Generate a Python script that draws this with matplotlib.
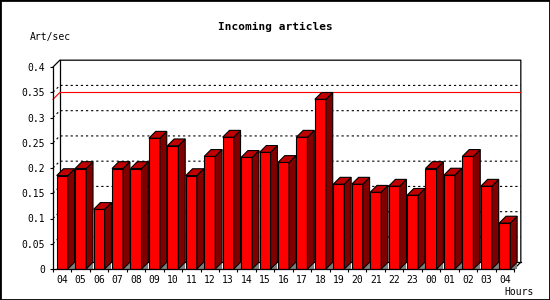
"""Incoming articles per hour: 3D-style bar chart (JpGraph look)."""
import numpy as np
import matplotlib
matplotlib.use("Agg")
import matplotlib.pyplot as plt
from matplotlib.patches import Polygon, Rectangle

hours = ["04", "05", "06", "07", "08", "09", "10", "11", "12", "13", "14", "15",
         "16", "17", "18", "19", "20", "21", "22", "23", "00", "01", "02", "03", "04"]
rate = [0.185, 0.199, 0.118, 0.199, 0.199, 0.259, 0.244, 0.185, 0.223, 0.261,
        0.221, 0.231, 0.211, 0.261, 0.336, 0.168, 0.168, 0.152, 0.164, 0.146,
        0.199, 0.186, 0.223, 0.164, 0.091]
yticks = [0, 0.05, 0.1, 0.15, 0.2, 0.25, 0.3, 0.35, 0.4]
ylabels = ["0", "0.05", "0.1", "0.15", "0.2", "0.25", "0.3", "0.35", "0.4"]

MONO = "DejaVu Sans Mono"
dx, dy = 0.37, 0.0135      # 3d depth in data units
bw = 0.6

fig = plt.figure(figsize=(5.5, 3.0), dpi=100)
ax = fig.add_axes([53 / 550, 31 / 300, 461 / 550, 202 / 300])
x = np.arange(len(rate))
ax.set_xlim(-0.5, len(rate) - 0.5)
ax.set_ylim(0, 0.4)
x0, x1 = -0.5, len(rate) - 0.5

# back-plane grid, drawn with the 3d slant at the left wall
for v in yticks[1:-1]:
    ax.plot([x0, x0 + dx, x1 + dx], [v, v + dy, v + dy], color="black",
            lw=0.8, ls=(0, (2, 2.6)), clip_on=False, zorder=1)
vmax = max(rate)
ax.plot([x0, x0 + dx, x1 + dx], [vmax, vmax + dy, vmax + dy], color="red",
        lw=0.8, clip_on=False, zorder=1.5)

# back frame
kw = dict(color="black", lw=0.9, clip_on=False, zorder=1)
ax.plot([x0, x0 + dx, x1 + dx, x1 + dx, x1], [0.4, 0.4 + dy, 0.4 + dy, dy, 0], **kw)
ax.plot([x0 + dx, x0 + dx, x1 + dx], [0.4 + dy, dy, dy], **kw)

# bars: front face, side, top, floor shadow
ax.bar(x, rate, width=bw, color="#ff0000", edgecolor="black", lw=0.8, zorder=3)
for xi, h in zip(x, rate):
    l, r = xi - bw / 2, xi + bw / 2
    ax.add_patch(Polygon([(r, 0), (r + dx, 0), (r + dx, dy)], closed=True,
                         fc="#808080", ec="none", clip_on=False, zorder=2))
    ax.add_patch(Polygon([(r, 0), (r + dx, dy), (r + dx, h + dy), (r, h)],
                         closed=True, fc="#800000", ec="black", lw=0.8,
                         clip_on=False, zorder=3))
    ax.add_patch(Polygon([(l, h), (r, h), (r + dx, h + dy), (l + dx, h + dy)],
                         closed=True, fc="#c00000", ec="black", lw=0.8,
                         clip_on=False, zorder=3))

for s in ("top", "right"):
    ax.spines[s].set_visible(False)
for s in ("left", "bottom"):
    ax.spines[s].set_linewidth(0.9)
    ax.spines[s].set_zorder(4)

ax.set_yticks(yticks)
ax.set_yticklabels(ylabels, family=MONO, fontsize=7)
ax.set_xticks(x)
ax.set_xticklabels(hours, family=MONO, fontsize=7)
ax.set_xticks(np.arange(-0.5, len(rate)), minor=True)
ax.tick_params(axis="y", length=2.2, width=0.8, pad=3.5)
ax.tick_params(axis="x", which="major", length=0, pad=4)
ax.tick_params(axis="x", which="minor", length=2.2, width=0.8)

fig.text(0.5, 1 - 27 / 300, "Incoming articles", ha="center", va="center",
         family=MONO, fontsize=8, fontweight="bold")
fig.text(30 / 550, 1 - 37 / 300, "Art/sec", ha="left", va="center",
         family=MONO, fontsize=7)
fig.text(534 / 550, 1 - 292 / 300, "Hours", ha="right", va="center",
         family=MONO, fontsize=7)
fig.patches.append(Rectangle((0, 0), 1, 1, transform=fig.transFigure,
                             fill=False, ec="black", lw=2))

fig.savefig("out.png", dpi=100)
